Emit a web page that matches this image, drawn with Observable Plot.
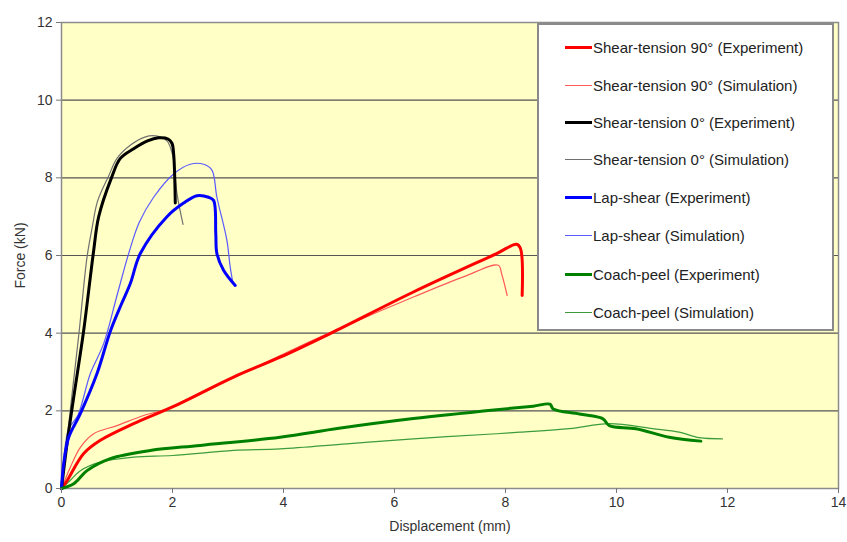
<!DOCTYPE html>
<html>
<head>
<meta charset="utf-8">
<script src="https://cdn.jsdelivr.net/npm/d3@7"></script>
<script src="https://cdn.jsdelivr.net/npm/@observablehq/plot@0.6"></script>
<style>
  html, body { margin: 0; padding: 0; background: #fff; }
  #wrap { position: relative; width: 847px; height: 542px; font-family: "Liberation Sans", Arial, sans-serif; }
  #legend { position: absolute; left: 537px; top: 23px; width: 293px; height: 304px; background: #fff; border: 2px solid #8a8a8a; box-sizing: content-box; }
  .row { position: absolute; left: 0; height: 20px; display: flex; align-items: center; font-size: 15px; color: #222; white-space: nowrap; }
  .sw { display: inline-block; width: 27px; margin-left: 26px; margin-right: 1px; }
</style>
</head>
<body>
<div id="wrap"></div>
<script>
// ---- data ----
const seriesNames = [
  "Shear-tension 90° (Experiment)",
  "Shear-tension 90° (Simulation)",
  "Shear-tension 0° (Experiment)",
  "Shear-tension 0° (Simulation)",
  "Lap-shear (Experiment)",
  "Lap-shear (Simulation)",
  "Coach-peel (Experiment)",
  "Coach-peel (Simulation)"
];
const xTicks = [0, 2, 4, 6, 8, 10, 12, 14];
const yTicks = [0, 2, 4, 6, 8, 10, 12];

const st90ExpX = [0, 0.10, 0.40, 0.70, 1.30, 2.0, 3.1, 3.94, 4.84, 6.34, 7.84, 8.2, 8.27, 8.30];
const st90ExpY = [0, 0.2, 0.9, 1.24, 1.67, 2.1, 2.87, 3.38, 3.99, 5.06, 6.05, 6.29, 6.18, 4.97];
const st90SimX = [0, 0.16, 0.34, 0.58, 1.0, 1.48, 2.0, 3.1, 4.2, 5.14, 6.34, 7.24, 7.87, 7.93, 8.03];
const st90SimY = [0, 0.55, 1.06, 1.41, 1.62, 1.88, 2.1, 2.85, 3.6, 4.2, 4.93, 5.45, 5.75, 5.53, 4.97];

const st0ExpX = [0, 0.10, 0.22, 0.40, 0.52, 0.58, 0.67, 0.90, 1.06, 1.30, 1.55, 1.75, 1.92, 1.99, 2.02, 2.05];
const st0ExpY = [0, 1.16, 2.35, 4.07, 5.45, 6.13, 7.0, 8.0, 8.5, 8.75, 8.95, 9.03, 9.0, 8.89, 8.63, 7.35];
const st0SimX = [0, 0.08, 0.18, 0.32, 0.46, 0.55, 0.65, 0.85, 1.0, 1.25, 1.5, 1.7, 1.9, 2.0, 2.08, 2.19];
const st0SimY = [0, 1.0, 2.3, 4.07, 5.96, 6.7, 7.4, 8.05, 8.5, 8.85, 9.05, 9.08, 8.95, 8.6, 7.6, 6.8];

const lapExpX = [0, 0.04, 0.13, 0.34, 0.64, 0.88, 1.08, 1.24, 1.42, 1.90, 2.2, 2.44, 2.65, 2.74, 2.78, 2.80, 2.92, 3.13];
const lapExpY = [0, 0.64, 1.32, 1.93, 2.96, 4.05, 4.75, 5.28, 6.05, 7.0, 7.35, 7.54, 7.5, 7.42, 6.56, 6.05, 5.62, 5.23];
const lapSimX = [0, 0.05, 0.12, 0.19, 0.30, 0.52, 0.76, 1.0, 1.21, 1.40, 1.66, 2.02, 2.32, 2.56, 2.71, 2.80, 2.98, 3.04, 3.09];
const lapSimY = [0, 0.9, 1.5, 1.67, 1.9, 2.96, 3.73, 4.97, 6.05, 6.85, 7.5, 8.1, 8.35, 8.35, 8.2, 7.5, 6.39, 5.7, 5.28];

const cpExpX = [0, 0.22, 0.46, 0.88, 1.6, 2.5, 3.94, 5.0, 6.34, 7.84, 8.5, 8.8, 8.86, 9.33, 9.75, 9.87, 10.35, 10.95, 11.52];
const cpExpY = [0, 0.12, 0.46, 0.77, 0.98, 1.11, 1.32, 1.55, 1.8, 2.03, 2.12, 2.17, 2.05, 1.92, 1.8, 1.62, 1.54, 1.32, 1.22];
const cpSimX = [0, 0.15, 0.34, 0.70, 1.30, 2.0, 3.1, 3.94, 5.14, 6.34, 7.84, 8.26, 9.15, 9.87, 10.65, 11.13, 11.49, 11.91];
const cpSimY = [0, 0.2, 0.46, 0.68, 0.81, 0.85, 0.98, 1.02, 1.15, 1.28, 1.41, 1.45, 1.54, 1.67, 1.54, 1.45, 1.31, 1.28];

// styles
const colors = ["#ff0000", "#ff5a5a", "#000000", "#707070", "#0000ff", "#5a5aff", "#008000", "#3c9c3c"];
const widths = [3, 1.2, 3, 1.2, 3, 1.2, 3, 1.2];

const xs = [st90ExpX, st90SimX, st0ExpX, st0SimX, lapExpX, lapSimX, cpExpX, cpSimX];
const ys = [st90ExpY, st90SimY, st0ExpY, st0SimY, lapExpY, lapSimY, cpExpY, cpSimY];
const tables = xs.map((xa, i) => xa.map((x, j) => ({x, y: ys[i][j]})));

// draw order: simulations under experiments
const order = [1, 3, 5, 7, 0, 2, 4, 6];

const chart = Plot.plot({
  width: 847,
  height: 542,
  marginLeft: 61,
  marginRight: 9,
  marginTop: 22,
  marginBottom: 54,
  style: { fontFamily: "Liberation Sans, Arial, sans-serif", fontSize: "14px", color: "#333", background: "transparent" },
  x: { domain: [0, 14] },
  y: { domain: [0, 12] },
  marks: [
    Plot.frame({ fill: "#ffffc6", stroke: null }),
    Plot.ruleY(yTicks.filter(d => d > 0), { stroke: "#555", strokeWidth: 1.2 }),
    Plot.frame({ stroke: "#8c8c8c", strokeWidth: 1.5 }),
    ...order.map(i => Plot.line(tables[i], { x: "x", y: "y", stroke: colors[i], strokeWidth: widths[i], strokeLinejoin: "round", curve: "catmull-rom" })),
    Plot.axisX({ ticks: xTicks, tickSize: 5, tickPadding: 4, stroke: "#777", fontSize: 14, label: "Displacement (mm)", labelAnchor: "center", labelArrow: "none", labelOffset: 42 }),
    Plot.axisY({ ticks: yTicks, tickSize: 5, tickPadding: 4, stroke: "#777", fontSize: 14, label: "Force (kN)", labelAnchor: "center", labelArrow: "none", labelOffset: 46 })
  ]
});

const wrap = document.getElementById("wrap");
wrap.appendChild(chart);

// legend overlay
const legend = document.createElement("div");
legend.id = "legend";
const rowTops = [12, 50, 87, 124, 162, 200, 239, 277];
seriesNames.forEach((name, i) => {
  const row = document.createElement("div");
  row.className = "row";
  row.style.top = rowTops[i] + "px";
  const sw = document.createElement("span");
  sw.className = "sw";
  sw.style.borderTop = `${i % 2 === 0 ? 3 : 1.2}px solid ${colors[i]}`;
  const t = document.createElement("span");
  t.textContent = name;
  row.appendChild(sw);
  row.appendChild(t);
  legend.appendChild(row);
});
wrap.appendChild(legend);
</script>
</body>
</html>
